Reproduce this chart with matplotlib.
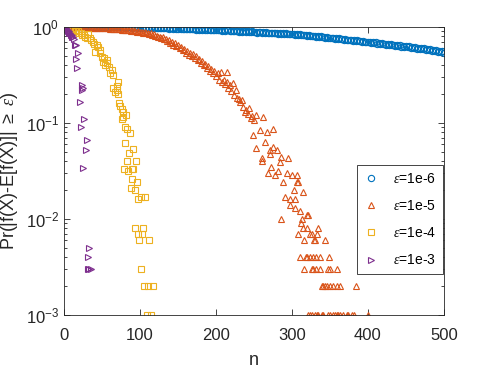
import numpy as np
import matplotlib
matplotlib.use("Agg")
import matplotlib.pyplot as plt

plt.rcParams['font.family'] = ['Liberation Sans', 'DejaVu Sans']
plt.rcParams['mathtext.fontset'] = 'custom'
plt.rcParams['mathtext.rm'] = 'Liberation Sans'
plt.rcParams['mathtext.it'] = 'Liberation Serif:italic'
plt.rcParams['mathtext.sf'] = 'Liberation Sans'

# eps = 1e-6 : n = 2, 4, ..., 500
n_e6 = np.arange(2, 502, 2)
p_e6 = [
    1.000, 0.999, 1.000, 0.998, 1.000, 0.999, 0.997, 1.000, 0.998, 0.999,
    0.997, 0.999, 0.996, 0.998, 1.000, 0.995, 0.998, 0.997, 0.994, 0.999,
    0.996, 0.993, 0.998, 0.995, 0.997, 0.992, 0.996, 0.999, 0.994, 0.993,
    0.997, 0.992, 0.995, 0.990, 0.996, 0.993, 0.989, 0.995, 0.991, 0.994,
    0.988, 0.993, 0.990, 0.995, 0.987, 0.992, 0.989, 0.986, 0.993, 0.990,
    0.985, 0.993, 0.982, 0.988, 0.979, 0.986, 0.990, 0.977, 0.983, 0.980,
    0.974, 0.982, 0.970, 0.978, 0.975, 0.968, 0.980, 0.971, 0.964, 0.973,
    0.968, 0.959, 0.971, 0.962, 0.956, 0.966, 0.953, 0.961, 0.958, 0.950,
    0.957, 0.946, 0.951, 0.960, 0.944, 0.949, 0.941, 0.953, 0.938, 0.947,
    0.936, 0.945, 0.932, 0.940, 0.947, 0.929, 0.937, 0.926, 0.934, 0.931,
    0.935, 0.921, 0.930, 0.917, 0.926, 0.912, 0.923, 0.928, 0.909, 0.916,
    0.905, 0.918, 0.900, 0.910, 0.897, 0.913, 0.894, 0.903, 0.908, 0.889,
    0.899, 0.885, 0.893, 0.901, 0.880, 0.890, 0.876, 0.887, 0.883, 0.872,
    0.881, 0.870, 0.886, 0.865, 0.875, 0.861, 0.873, 0.868, 0.857, 0.866,
    0.854, 0.867, 0.849, 0.860, 0.845, 0.856, 0.841, 0.852, 0.848, 0.838,
    0.850, 0.833, 0.844, 0.826, 0.839, 0.821, 0.831, 0.817, 0.828, 0.812,
    0.820, 0.804, 0.815, 0.797, 0.809, 0.791, 0.803, 0.786, 0.798, 0.781,
    0.789, 0.773, 0.785, 0.766, 0.777, 0.759, 0.771, 0.754, 0.764, 0.750,
    0.760, 0.742, 0.753, 0.736, 0.747, 0.728, 0.740, 0.724, 0.733, 0.719,
    0.731, 0.713, 0.724, 0.707, 0.718, 0.702, 0.711, 0.695, 0.706, 0.693,
    0.702, 0.688, 0.694, 0.679, 0.691, 0.672, 0.684, 0.667, 0.679, 0.661,
    0.673, 0.655, 0.668, 0.649, 0.661, 0.643, 0.657, 0.638, 0.650, 0.632,
    0.645, 0.626, 0.638, 0.620, 0.633, 0.613, 0.627, 0.607, 0.619, 0.602,
    0.614, 0.597, 0.609, 0.590, 0.603, 0.584, 0.598, 0.578, 0.592, 0.572,
    0.585, 0.566, 0.579, 0.560, 0.573, 0.553, 0.567, 0.546, 0.561, 0.541,
]

# eps = 1e-5 : dense part n = 2..250, then scattered tail
n_e5_dense = np.arange(2, 252, 2)
p_e5_dense = [
    1.000, 0.999, 0.998, 1.000, 0.997, 0.998, 0.996, 0.999, 0.995, 0.996,
    0.994, 0.997, 0.992, 0.993, 0.990, 0.994, 0.988, 0.990, 0.985, 0.983,
    0.982, 0.978, 0.980, 0.975, 0.977, 0.971, 0.974, 0.966, 0.969, 0.962,
    0.963, 0.955, 0.958, 0.950, 0.953, 0.944, 0.948, 0.939, 0.941, 0.932,
    0.935, 0.922, 0.927, 0.916, 0.920, 0.905, 0.913, 0.897, 0.904, 0.888,
    0.893, 0.872, 0.880, 0.862, 0.869, 0.848, 0.857, 0.832, 0.841, 0.806,
    0.812, 0.785, 0.795, 0.762, 0.779, 0.742, 0.755, 0.719, 0.731, 0.688,
    0.703, 0.652, 0.674, 0.631, 0.650, 0.602, 0.621, 0.578, 0.595, 0.542,
    0.568, 0.512, 0.541, 0.498, 0.519, 0.471, 0.493, 0.449, 0.468, 0.421,
    0.447, 0.398, 0.415, 0.372, 0.392, 0.352, 0.367, 0.331, 0.345, 0.309,
    0.328, 0.283, 0.343, 0.268, 0.281, 0.252, 0.266, 0.233, 0.247, 0.218,
    0.258, 0.196, 0.221, 0.182, 0.176, 0.165, 0.172, 0.148, 0.131, 0.138,
    0.124, 0.145, 0.112, 0.118, 0.107,
]
n_e5_tail = [214, 253, 262, 249, 258, 267, 275, 253, 271, 280, 285, 295, 260,
             264, 275, 271, 260, 284, 273, 282, 293, 300, 307, 268, 278, 288,
             307, 308, 315, 302, 291, 297, 304, 297, 304, 311, 320, 321, 285,
             313, 312, 315, 320, 334, 308, 324, 326, 333, 316, 329, 330, 343,
             310, 318, 320, 324, 328, 331, 337, 349,
             316, 326, 328, 332, 337, 347, 350, 359,
             339, 341, 343, 346, 350, 354, 359, 363, 384,
             321, 324, 326, 330, 333, 334, 339, 341, 347, 350, 354, 357, 359,
             361, 363, 367, 372, 374, 379, 382, 400]
p_e5_tail = [0.34, 0.12, 0.115, 0.075, 0.085, 0.08, 0.087, 0.055, 0.052, 0.052,
             0.044, 0.043, 0.043, 0.064, 0.056, 0.048, 0.040, 0.039, 0.035,
             0.032, 0.030, 0.029, 0.029, 0.030, 0.029, 0.024, 0.024, 0.024,
             0.019, 0.020, 0.017, 0.016, 0.016, 0.014, 0.013, 0.012, 0.011,
             0.011, 0.010, 0.010, 0.009, 0.008, 0.008, 0.008, 0.007, 0.007,
             0.007, 0.007, 0.006, 0.006, 0.006, 0.006,
             0.004, 0.004, 0.004, 0.004, 0.004, 0.004, 0.004, 0.004,
             0.003, 0.003, 0.003, 0.003, 0.003, 0.003, 0.003, 0.003,
             0.002, 0.002, 0.002, 0.002, 0.002, 0.002, 0.002, 0.002, 0.002,
             0.001, 0.001, 0.001, 0.001, 0.001, 0.001, 0.001, 0.001, 0.001,
             0.001, 0.001, 0.001, 0.001, 0.001, 0.001, 0.001, 0.001, 0.001,
             0.001, 0.001, 0.001]

# eps = 1e-4
n_e4 = [2, 4, 6, 8, 10, 12, 14, 16, 18, 20, 22, 24, 26, 28, 30,
        31, 34, 36, 38, 39, 43, 45, 41, 47, 48, 50, 51, 53, 54, 56, 57, 59,
        61, 64, 63, 71, 64, 70, 67, 71, 70, 74, 72, 76, 78, 82, 76, 78, 80,
        83, 87, 80, 91, 86, 83, 95, 79, 84, 89, 91, 89, 96, 88, 93, 97, 101,
        107, 93, 104, 97, 103, 99, 112, 101, 105, 111, 117, 109, 115]
p_e4 = [0.998, 0.990, 0.987, 0.972, 0.968, 0.946, 0.940, 0.912, 0.905, 0.872,
        0.865, 0.828, 0.820, 0.781, 0.775,
        0.84, 0.77, 0.73, 0.70, 0.66, 0.65, 0.62, 0.55, 0.54, 0.58, 0.49,
        0.43, 0.47, 0.40, 0.45, 0.42, 0.38,
        0.33, 0.32, 0.36, 0.27, 0.23, 0.22, 0.21, 0.20, 0.24, 0.15, 0.16,
        0.14, 0.13, 0.12, 0.11, 0.115, 0.09, 0.087, 0.079, 0.062, 0.054,
        0.049, 0.040, 0.040, 0.033, 0.032, 0.033, 0.033, 0.026, 0.024,
        0.021, 0.020, 0.016, 0.017, 0.017, 0.008, 0.008, 0.007, 0.007,
        0.006, 0.006, 0.003, 0.002, 0.002, 0.002, 0.001, 0.001]

# eps = 1e-3
n_e3 = [1, 2, 3, 4, 5, 6, 7, 8, 9, 10, 11, 12, 13,
        14, 16, 18, 16, 17, 24, 25, 24, 21, 26, 23, 30, 29, 25,
        33, 32, 31, 33, 35]
p_e3 = [0.99, 0.975, 0.95, 0.945, 0.915, 0.91, 0.875, 0.87, 0.835, 0.825,
        0.79, 0.785, 0.75,
        0.65, 0.65, 0.54, 0.46, 0.37, 0.25, 0.23, 0.22, 0.165, 0.11, 0.09,
        0.066, 0.052, 0.034,
        0.005, 0.004, 0.003, 0.003, 0.003]

labels = [r'$\epsilon$=1e-6', r'$\epsilon$=1e-5', r'$\epsilon$=1e-4', r'$\epsilon$=1e-3']
colors = ['#0072BD', '#D95319', '#EDB120', '#7E2F8E']

fig = plt.figure(figsize=(4.91, 3.68), dpi=100)
ax = fig.add_axes([64 / 491, 53 / 368, 380 / 491, 288 / 368])

mk = dict(linestyle='none', markerfacecolor='none', markeredgewidth=0.8)
ax.plot(n_e6, p_e6, marker='o', color=colors[0], markeredgecolor=colors[0],
        markersize=4.5, label=labels[0], **mk)
ax.plot(np.concatenate([n_e5_dense, n_e5_tail]), p_e5_dense + p_e5_tail,
        marker='^', color=colors[1], markeredgecolor=colors[1],
        markersize=5, label=labels[1], **mk)
ax.plot(n_e4, p_e4, marker='s', color=colors[2], markeredgecolor=colors[2],
        markersize=4, label=labels[2], **mk)
ax.plot(n_e3, p_e3, marker='>', color=colors[3], markeredgecolor=colors[3],
        markersize=4.5, label=labels[3], **mk)

ax.set_yscale('log')
ax.set_xlim(0, 500)
ax.set_ylim(1e-3, 1)
ax.set_xticks([0, 100, 200, 300, 400, 500])
ax.tick_params(which='both', direction='in', top=True, right=True,
               labelsize=12, colors='#262626', width=0.6)
ax.tick_params(which='major', length=4)
ax.tick_params(which='minor', length=2.5)
ax.tick_params(axis='x', pad=9)
for s in ax.spines.values():
    s.set_color('#262626')
    s.set_linewidth(0.6)

ax.set_xlabel('n', fontsize=13, color='#262626', labelpad=7)
ax.set_ylabel(r'Pr(|f(X)-E[f(X)]| $\geq$ $\epsilon$)', fontsize=13, color='#262626')

leg = ax.legend(loc='upper left', bbox_to_anchor=(0.771, 0.521), numpoints=1,
                fontsize=10, handlelength=1.0, handletextpad=1.1,
                labelspacing=0.95, borderpad=0.5, borderaxespad=0,
                fancybox=False, framealpha=1, edgecolor='#262626')
leg.get_frame().set_linewidth(0.6)

fig.savefig('out.png', dpi=100)
